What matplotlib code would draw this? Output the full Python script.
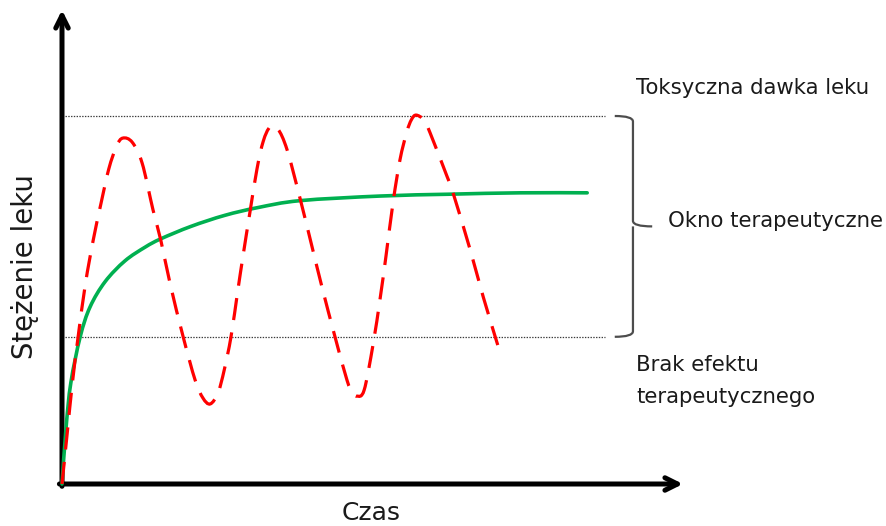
import matplotlib
matplotlib.use("Agg")
import matplotlib.pyplot as plt
import numpy as np
from matplotlib.path import Path
from matplotlib.patches import PathPatch

plt.rcParams['font.family'] = ['DejaVu Sans']
plt.rcParams['lines.scale_dashes'] = False

# Concentration levels
toxic_level = 8.0
min_level = 3.2

# Repeated doses (red dashed)
dose_t = [0.0, 0.10, 0.20, 0.31, 0.45, 0.60, 0.75, 0.90, 1.05, 1.17, 1.35, 1.54,
          1.75, 1.90, 2.08, 2.33, 2.56, 2.71, 2.85, 3.00, 3.12, 3.25, 3.38, 3.48,
          3.62, 3.75, 3.87, 4.00, 4.15, 4.33, 4.58, 4.81, 5.00, 5.25, 5.48, 5.58,
          5.67, 5.81, 5.98, 6.12, 6.23, 6.37, 6.50, 6.63, 6.72, 6.81, 6.96, 7.08,
          7.40, 7.52, 7.85, 8.10, 8.38]
dose_c = [0.0, 1.10, 2.20, 3.20, 4.35, 5.30, 6.10, 6.85, 7.35, 7.52, 7.43, 6.98,
          5.96, 5.30, 4.35, 3.20, 2.26, 1.87, 1.74, 1.98, 2.48, 3.20, 4.20, 4.95,
          5.95, 6.85, 7.45, 7.76, 7.72, 7.26, 6.20, 5.15, 4.28, 3.20, 2.26, 2.00,
          1.91, 2.04, 3.02, 4.05, 4.95, 6.15, 7.05, 7.65, 7.92, 8.02, 7.91, 7.63,
          6.70, 6.33, 5.09, 4.07, 3.02]

# Continuous infusion (green)
inf_t = [0.0, 0.08, 0.17, 0.35, 0.54, 0.83, 1.21, 1.60, 1.90, 2.48, 3.13,
         3.77, 4.58, 6.12, 7.46, 8.81, 10.10]
inf_c = [0.0, 1.25, 2.20, 3.20, 3.85, 4.40, 4.85, 5.15, 5.33, 5.60, 5.84,
         6.01, 6.16, 6.26, 6.30, 6.33, 6.33]


# smooth path through the read points (Catmull-Rom as cubic Bezier)
def smooth_path(xs, ys):
    pts = np.column_stack([xs, ys])
    verts = [pts[0]]
    codes = [Path.MOVETO]
    n = len(pts)
    for i in range(n - 1):
        p0 = pts[i - 1] if i > 0 else pts[i]
        p1 = pts[i]
        p2 = pts[i + 1]
        p3 = pts[i + 2] if i + 2 < n else pts[i + 1]
        verts += [p1 + (p2 - p0) / 6, p2 - (p3 - p1) / 6, p2]
        codes += [Path.CURVE4] * 3
    return Path(verts, codes)


fig = plt.figure(figsize=(8.87, 5.26), dpi=100)
ax = fig.add_axes([0, 0, 1, 1])
ax.set_xlim(-62 / 52, 825 / 52)
ax.set_ylim(-42 / 46, 484 / 46)
ax.axis('off')

# axes with arrows
arrow = dict(arrowstyle='->,head_length=0.9,head_width=0.45', lw=3.6, color='black',
             shrinkA=0, shrinkB=0)
ax.annotate('', xy=(0, 474 / 46), xytext=(0, -0.05), arrowprops=arrow)
ax.annotate('', xy=(621 / 52, 0), xytext=(-0.05, 0), arrowprops=arrow)

# level lines
for lvl in [toxic_level, min_level]:
    ax.plot([0.06, 10.44], [lvl, lvl], color='#3a3a3a', lw=0.9, linestyle=(0, (1, 1)))

ax.add_patch(PathPatch(smooth_path(inf_t, inf_c), facecolor='none', edgecolor='#00B050',
                       lw=2.6, capstyle='round', zorder=3))
ax.add_patch(PathPatch(smooth_path(dose_t, dose_c), facecolor='none', edgecolor='#FF0000',
                       lw=2.3, linestyle=(0, (16, 9)), zorder=4))

# curly brace for therapeutic window
mid = (toxic_level + min_level) / 2
x0, x1, x2 = 10.63, 10.98, 11.35
r = 0.12
verts = [(x0, toxic_level), (x1, toxic_level), (x1, toxic_level - r),
         (x1, mid + r), (x1, mid), (x2, mid),
         (x1, mid), (x1, mid - r),
         (x1, min_level + r), (x1, min_level), (x0, min_level)]
codes = [Path.MOVETO, Path.CURVE3, Path.CURVE3,
         Path.LINETO, Path.CURVE3, Path.LINETO,
         Path.MOVETO, Path.LINETO,
         Path.LINETO, Path.CURVE3, Path.CURVE3]
ax.add_patch(PathPatch(Path(verts, codes), facecolor='none', edgecolor='#4d4d4d', lw=1.6))

tc = '#1a1a1a'
ax.text(11.04, 8.61, 'Toksyczna dawka leku', fontsize=15.3, color=tc, va='center', ha='left')
ax.text(11.65, 5.72, 'Okno terapeutyczne', fontsize=15.3, color=tc, va='center', ha='left')
ax.text(11.04, 2.59, 'Brak efektu', fontsize=15.3, color=tc, va='center', ha='left')
ax.text(11.04, 1.89, 'terapeutycznego', fontsize=15.3, color=tc, va='center', ha='left')
ax.text(5.94, -0.63, 'Czas', fontsize=18, color=tc, va='center', ha='center')
ax.text(-0.72, 4.72, 'Stężenie leku', fontsize=19.8, color=tc, va='center', ha='center', rotation=90)

fig.savefig('out.png', dpi=100)
